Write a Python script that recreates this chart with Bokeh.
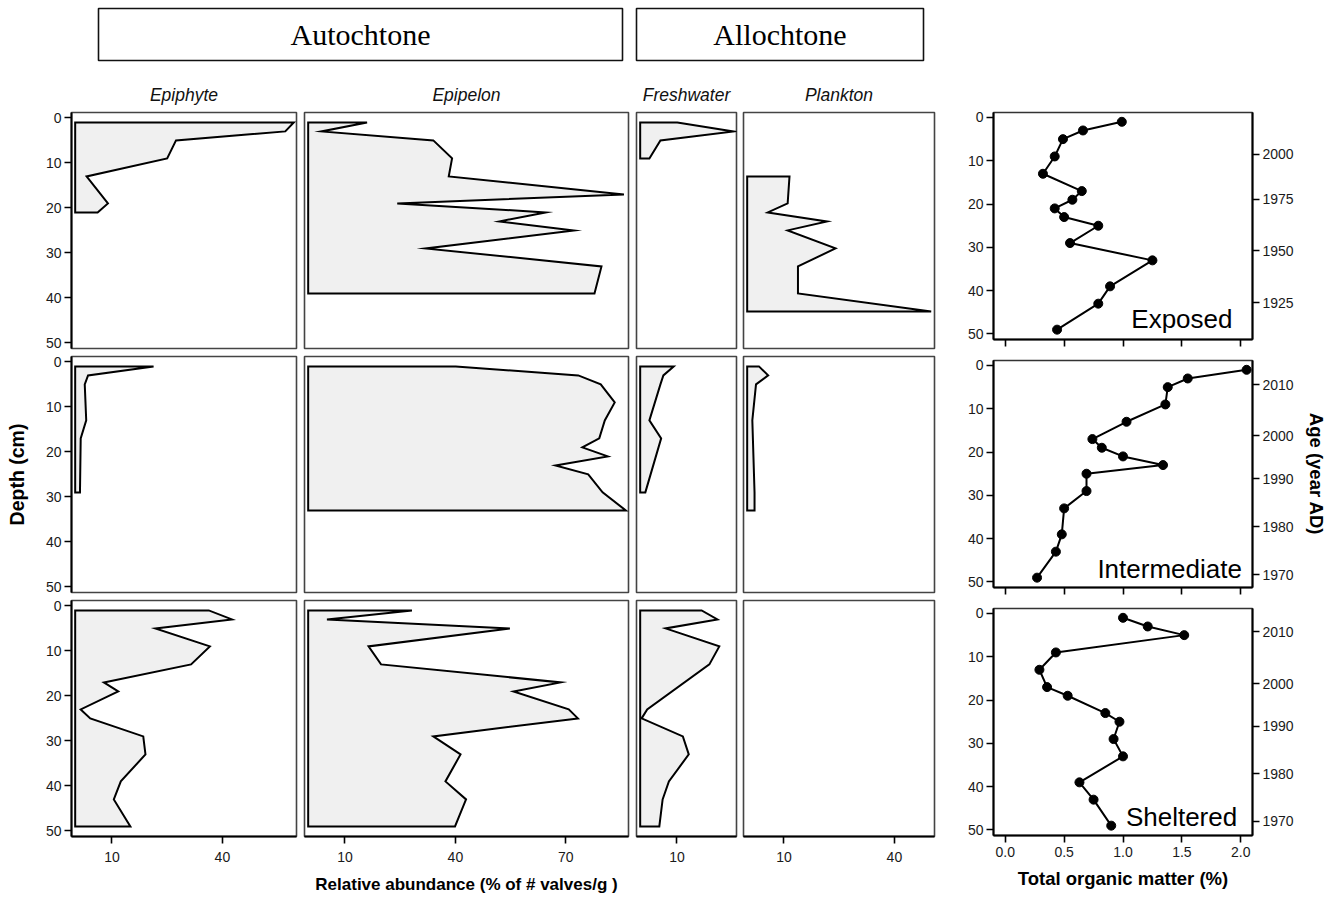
from bokeh.plotting import figure
from bokeh.models import (Range1d, LinearAxis, FixedTicker, Label, BoxAnnotation,
                          Spacer, PrintfTickFormatter)
from bokeh.layouts import row, column
from bokeh.embed import file_html
from bokeh.resources import INLINE

FONT = "Liberation Sans"
SERIF = "Liberation Serif"

# ---------------- data ----------------
sites = ["Exposed", "Intermediate", "Sheltered"]
groups = ["Epiphyte", "Epipelon", "Freshwater", "Plankton"]
header_names = ["Autochtone", "Allochtone"]

# Exposed site (relative abundance, %)
exp_epiphyte_depth = [1, 3, 5, 9, 13, 19, 21]
exp_epiphyte = [59.4, 57.1, 27.4, 25.0, 3.1, 8.9, 6.1]
exp_epipelon_depth = [1, 3, 5, 9, 13, 17, 19, 21, 23, 25, 29, 33, 39]
exp_epipelon = [16.0, 3.6, 34.0, 39.1, 38.2, 85.8, 24.2, 64.5, 52.0, 72.2, 31.9, 79.7, 77.8]
exp_freshwater_depth = [1, 3, 5, 9]
exp_freshwater = [10.1, 25.4, 5.5, 2.5]
exp_plankton_depth = [13, 19, 21, 23, 25, 29, 33, 39, 43]
exp_plankton = [11.5, 11.0, 5.6, 21.7, 11.0, 24.0, 13.8, 13.8, 50.0]

# Intermediate site
int_epiphyte_depth = [1, 3, 5, 9, 13, 17, 29]
int_epiphyte = [21.3, 3.5, 2.6, 2.8, 3.0, 1.5, 1.3]
int_epipelon_depth = [1, 3, 5, 9, 13, 17, 19, 21, 23, 25, 29, 33]
int_epipelon = [40.1, 73.4, 79.5, 83.3, 80.6, 79.1, 74.5, 81.4, 67.2, 76.1, 80.0, 86.3]
int_freshwater_depth = [1, 3, 5, 13, 17, 29]
int_freshwater = [9.1, 6.3, 5.5, 2.5, 5.7, 1.4]
int_plankton_depth = [1, 3, 5, 13, 29, 33]
int_plankton = [3.2, 5.7, 2.4, 1.4, 2.0, 2.0]

# Sheltered site
she_epiphyte_depth = [1, 3, 5, 9, 13, 17, 19, 23, 25, 29, 33, 39, 43, 49]
she_epiphyte = [36.3, 42.6, 21.8, 36.6, 31.5, 7.8, 11.7, 1.5, 4.1, 18.5, 19.1, 12.4, 10.5, 15.0]
she_epipelon_depth = [1, 3, 5, 9, 13, 17, 19, 23, 25, 29, 33, 39, 43, 49]
she_epipelon = [28.2, 5.1, 54.8, 16.4, 19.8, 68.6, 55.8, 70.8, 73.3, 34.0, 41.4, 37.3, 42.9, 39.9]
she_freshwater_depth = [1, 3, 5, 9, 13, 23, 25, 29, 33, 39, 43, 49]
she_freshwater = [16.7, 21.0, 6.9, 21.5, 18.8, 1.9, 0.4, 11.6, 13.2, 7.8, 6.1, 5.2]
she_plankton_depth = []
she_plankton = []

# Total organic matter (%)
tom_exposed_depth = [1, 3, 5, 9, 13, 17, 19, 21, 23, 25, 29, 33, 39, 43, 49]
tom_exposed = [0.99, 0.66, 0.49, 0.42, 0.32, 0.65, 0.57, 0.42, 0.50, 0.79, 0.55, 1.25, 0.89, 0.79, 0.44]
tom_intermediate_depth = [1, 3, 5, 9, 13, 17, 19, 21, 23, 25, 29, 33, 39, 43, 49]
tom_intermediate = [2.05, 1.55, 1.38, 1.36, 1.03, 0.74, 0.82, 1.00, 1.34, 0.69, 0.69, 0.50, 0.48, 0.43, 0.27]
tom_sheltered_depth = [1, 3, 5, 9, 13, 17, 19, 23, 25, 29, 33, 39, 43, 49]
tom_sheltered = [1.00, 1.21, 1.52, 0.43, 0.29, 0.355, 0.53, 0.85, 0.97, 0.92, 1.00, 0.63, 0.75, 0.90]

# Age (year AD) tick positions on the depth scale
age_exposed_depth = [8.5, 18.9, 30.8, 42.8]
age_exposed_year = ["2000", "1975", "1950", "1925"]
age_intermediate_depth = [4.4, 16.2, 26.2, 37.3, 48.3]
age_intermediate_year = ["2010", "2000", "1990", "1980", "1970"]
age_sheltered_depth = [4.2, 16.2, 26.0, 37.0, 48.0]
age_sheltered_year = ["2010", "2000", "1990", "1980", "1970"]

depth_ticks = [0, 10, 20, 30, 40, 50]
tom_ticks = [0, 0.5, 1.0, 1.5, 2.0]
abund_ticks = [[10, 40], [10, 40, 70], [10], [10, 40]]

diatom_rows = [
    [(exp_epiphyte_depth, exp_epiphyte), (exp_epipelon_depth, exp_epipelon),
     (exp_freshwater_depth, exp_freshwater), (exp_plankton_depth, exp_plankton)],
    [(int_epiphyte_depth, int_epiphyte), (int_epipelon_depth, int_epipelon),
     (int_freshwater_depth, int_freshwater), (int_plankton_depth, int_plankton)],
    [(she_epiphyte_depth, she_epiphyte), (she_epipelon_depth, she_epipelon),
     (she_freshwater_depth, she_freshwater), (she_plankton_depth, she_plankton)],
]
tom_rows = [(tom_exposed_depth, tom_exposed), (tom_intermediate_depth, tom_intermediate),
            (tom_sheltered_depth, tom_sheltered)]
age_rows = [(age_exposed_depth, age_exposed_year), (age_intermediate_depth, age_intermediate_year),
            (age_sheltered_depth, age_sheltered_year)]

# ---------------- layout constants ----------------
PX_PER_PCT = 3.68
PX_PER_CM = 4.5
col_specs = [  # frame width, left border, right border
    (225, 71, 4),
    (324, 4, 4),
    (100, 4, 3),
    (191, 4, 4),
]
HEADER_H = 108
ROW_FRAME_H = 236
ROW_BT = 4
ROW_BB = 4
LAST_BB = 62

TOM_W, TOM_BL, TOM_BR = 259, 55, 78
TOM_H = 227
TOM_PX_PER_CM = 4.33
TOM_SPACER = 102

TICK_COLOR = "#1a1a1a"


def style_axis(ax, tick_out=7):
    ax.axis_line_color = "black"
    ax.axis_line_width = 2
    ax.major_tick_line_color = "black"
    ax.major_tick_line_width = 1.6
    ax.major_tick_out = tick_out
    ax.major_tick_in = 0
    ax.minor_tick_line_color = None
    ax.major_label_text_font = FONT
    ax.major_label_text_font_size = "14px"
    ax.major_label_text_color = TICK_COLOR
    ax.axis_label_text_font = FONT
    ax.axis_label_text_font_size = "18px"
    ax.axis_label_text_font_style = "bold"
    ax.axis_label_text_color = "black"


def make_fig(fw, fh, xr, yr, bl, br, bt, bb, outline="#444"):
    p = figure(frame_width=fw, frame_height=fh, x_range=xr, y_range=yr,
               x_axis_location=None, y_axis_location=None,
               toolbar_location=None, output_backend="svg",
               min_border_left=bl, min_border_right=br,
               min_border_top=bt, min_border_bottom=bb)
    p.xgrid.visible = False
    p.ygrid.visible = False
    p.outline_line_color = outline
    p.outline_line_width = 1.6
    p.background_fill_color = "white"
    p.border_fill_color = "white"
    return p


# ---------------- header ----------------
left_total = sum(w + bl + br for (w, bl, br) in col_specs)
frame_lefts = []
x0 = 0
for (w, bl, br) in col_specs:
    frame_lefts.append(x0 + bl)
    x0 += bl + w + br

header = figure(frame_width=left_total, frame_height=HEADER_H,
                x_range=Range1d(0, left_total), y_range=Range1d(HEADER_H, 0),
                x_axis_location=None, y_axis_location=None,
                toolbar_location=None, output_backend="svg",
                min_border_left=0, min_border_right=0, min_border_top=0, min_border_bottom=0)
header.xgrid.visible = False
header.ygrid.visible = False
header.outline_line_color = None

box_spans = [(98, 622), (636, 923)]
for name, (l, r) in zip(header_names, box_spans):
    header.add_layout(BoxAnnotation(left=l, right=r, top=8, bottom=60,
                                    fill_color=None, fill_alpha=0,
                                    line_color="#111", line_alpha=1.0, line_width=1.6))
    header.add_layout(Label(x=(l + r) / 2, y=34, text=name, text_align="center",
                            text_baseline="middle", text_font=SERIF,
                            text_font_size="30px", text_color="black"))
for name, fl, (w, bl, br) in zip(groups, frame_lefts, col_specs):
    header.add_layout(Label(x=fl + w / 2, y=94, text=name, text_align="center",
                            text_baseline="middle", text_font=FONT,
                            text_font_size="17.5px", text_font_style="italic",
                            text_color="#111"))

# ---------------- diatom panels ----------------
left_rows = []
for ri, row_data in enumerate(diatom_rows):
    last = ri == len(diatom_rows) - 1
    figs = []
    for ci, ((dep, val), (w, bl, br)) in enumerate(zip(row_data, col_specs)):
        xr = Range1d(-1.0, -1.0 + w / PX_PER_PCT)
        yr = Range1d(-1.2 + ROW_FRAME_H / PX_PER_CM, -1.2)
        p = make_fig(w, ROW_FRAME_H, xr, yr, bl, br, ROW_BT, LAST_BB if last else ROW_BB)
        if len(dep) > 0:
            xs = [0] + list(val) + [0]
            ys = [dep[0]] + list(dep) + [dep[-1]]
            p.patch(xs, ys, fill_color="#f0f0f0", line_color="black", line_width=2,
                    line_join="miter")
        if ci == 0:
            ax = LinearAxis(ticker=FixedTicker(ticks=depth_ticks))
            style_axis(ax)
            ax.major_label_standoff = 3
            if ri == 1:
                ax.axis_label = "Depth (cm)"
                ax.axis_label_text_font_size = "19.5px"
                ax.axis_label_standoff = 15
            p.add_layout(ax, "left")
        if last:
            ax = LinearAxis(ticker=FixedTicker(ticks=abund_ticks[ci]))
            style_axis(ax)
            ax.major_label_standoff = 8
            if ci == 1:
                ax.axis_label = "Relative abundance (% of # valves/g )"
                ax.axis_label_text_font_size = "17px"
                ax.axis_label_standoff = 10
            p.add_layout(ax, "below")
        figs.append(p)
    left_rows.append(row(*figs, spacing=0))

left_block = column(header, *left_rows, spacing=0)

# ---------------- TOM panels ----------------
tom_figs = [Spacer(width=TOM_BL + TOM_W + TOM_BR, height=TOM_SPACER)]
tom_bb = [11, 11, 63]
label_pos = [(1.93, 46.6), (2.01, 46.9), (1.97, 47.1)]
for ri, ((dep, val), (adep, ayear), site) in enumerate(zip(tom_rows, age_rows, sites)):
    last = ri == 2
    xr = Range1d(-0.1, 2.1)
    yr = Range1d(-1.15 + TOM_H / TOM_PX_PER_CM, -1.15)
    p = make_fig(TOM_W, TOM_H, xr, yr, TOM_BL, TOM_BR, 10, tom_bb[ri], outline="#333")
    p.line(val, dep, line_color="black", line_width=2)
    p.scatter(val, dep, size=9, fill_color="black", line_color="black")

    axl = LinearAxis(ticker=FixedTicker(ticks=depth_ticks))
    style_axis(axl)
    axl.major_label_standoff = 3
    p.add_layout(axl, "left")

    axr = LinearAxis(ticker=FixedTicker(ticks=adep),
                     major_label_overrides={d: y for d, y in zip(adep, ayear)})
    style_axis(axr, tick_out=7)
    axr.major_label_standoff = 3
    if ri == 1:
        axr.axis_label = "Age (year AD)"
        axr.axis_label_text_font_size = "18.5px"
        axr.axis_label_standoff = 9
    p.add_layout(axr, "right")

    if last:
        axb = LinearAxis(ticker=FixedTicker(ticks=tom_ticks),
                         formatter=PrintfTickFormatter(format="%.1f"))
        style_axis(axb, tick_out=7)
        axb.major_label_standoff = 4
        axb.axis_label = "Total organic matter (%)"
        axb.axis_label_text_font_size = "18.5px"
        axb.axis_label_standoff = 8
    else:
        # ticks only, no labels: use minor ticks of a label-less ticker
        axb = LinearAxis(ticker=FixedTicker(ticks=[], minor_ticks=tom_ticks))
        style_axis(axb, tick_out=7)
        axb.minor_tick_line_color = "black"
        axb.minor_tick_line_width = 1.6
        axb.minor_tick_out = 7
        axb.minor_tick_in = 0
        axb.major_label_standoff = 0
    p.add_layout(axb, "below")

    lx, ly = label_pos[ri]
    p.add_layout(Label(x=lx, y=ly, text=site, text_align="right",
                       text_baseline="middle", text_font=FONT,
                       text_font_size="26px", text_color="black"))
    tom_figs.append(p)

tom_block = column(*tom_figs, spacing=0)

layout = row(left_block, tom_block, spacing=0)

open("out.html", "w").write(file_html(layout, INLINE))
